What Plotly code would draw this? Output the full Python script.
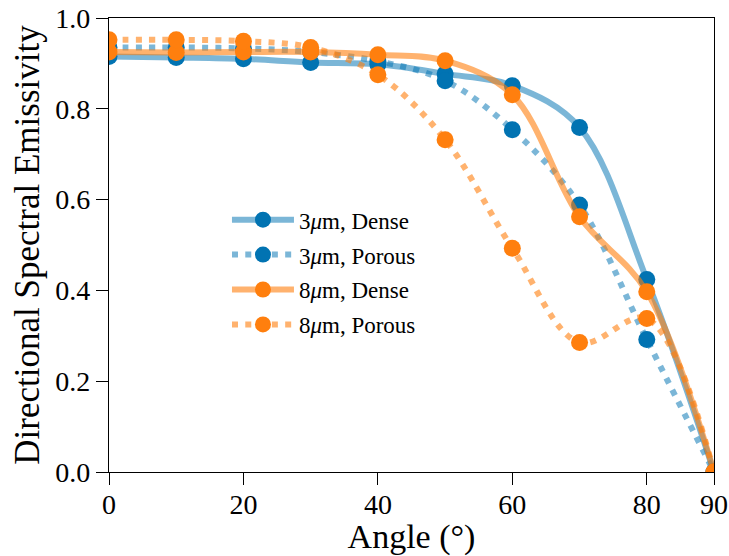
import plotly.graph_objects as go

# Emission angle (degrees)
angles = [0, 10, 20, 30, 40, 50, 60, 70, 80, 90]

# Directional spectral emissivity per coating
dense_3um = [0.915, 0.913, 0.910, 0.902, 0.898, 0.877, 0.851, 0.759, 0.424, 0.0]
porous_3um = [0.935, 0.935, 0.933, 0.925, 0.905, 0.862, 0.754, 0.588, 0.292, 0.0]
dense_8um = [0.925, 0.924, 0.925, 0.925, 0.919, 0.906, 0.831, 0.562, 0.397, 0.0]
porous_8um = [0.952, 0.952, 0.949, 0.935, 0.875, 0.732, 0.493, 0.285, 0.338, 0.0]

series_names = ["3<i>μ</i>m, Dense", "3<i>μ</i>m, Porous",
                "8<i>μ</i>m, Dense", "8<i>μ</i>m, Porous"]

BLUE = "#0173b2"
ORANGE = "#ff7f0e"
BLUE_LINE = "rgba(1,115,178,0.52)"
ORANGE_LINE = "rgba(255,127,14,0.6)"
DOT = "6px,7.3px"

styles = [
    (dense_3um, BLUE, BLUE_LINE, "solid"),
    (porous_3um, BLUE, BLUE_LINE, DOT),
    (dense_8um, ORANGE, ORANGE_LINE, "solid"),
    (porous_8um, ORANGE, ORANGE_LINE, DOT),
]

FONT = "Liberation Serif"

fig = go.Figure()
for i, ((vals, mcol, lcol, dash), name) in enumerate(zip(styles, series_names)):
    fig.add_trace(go.Scatter(
        x=angles, y=vals, name=name, legendgroup=f"g{i}",
        mode="lines+markers",
        line=dict(color=lcol, width=6, dash=dash, shape="spline", smoothing=1.0),
        marker=dict(color=mcol, size=17, line=dict(width=0)),
    ))

fig.update_layout(
    width=729, height=556,
    margin=dict(l=109, r=15, t=18, b=84),
    paper_bgcolor="white", plot_bgcolor="white",
    font=dict(family=FONT, color="black"),
    showlegend=True,
    legend=dict(
        x=0.195, y=0.603, xanchor="left", yanchor="top",
        bgcolor="rgba(0,0,0,0)", borderwidth=0,
        font=dict(family=FONT, size=23, color="black"),
        itemwidth=62, traceorder="grouped", tracegroupgap=2,
    ),
)

axis_common = dict(
    showline=True, linecolor="black", linewidth=1.4, mirror=True,
    ticks="outside", ticklen=12, tickwidth=1.4, tickcolor="black",
    showgrid=False, zeroline=False, automargin=False,
    tickfont=dict(family=FONT, size=28, color="black"),
)

fig.update_xaxes(
    range=[0, 90], tickvals=[0, 20, 40, 60, 80, 90],
    ticklabelstandoff=-5,
    title=dict(text="Angle (°)", font=dict(family=FONT, size=34), standoff=0),
    **axis_common,
)
fig.update_yaxes(
    range=[0, 1.0], tickvals=[0, 0.2, 0.4, 0.6, 0.8, 1.0], tickformat=".1f",
    title=dict(text="Directional Spectral Emissivity", font=dict(family=FONT, size=35), standoff=4),
    **axis_common,
)

fig.write_html("out.html")
